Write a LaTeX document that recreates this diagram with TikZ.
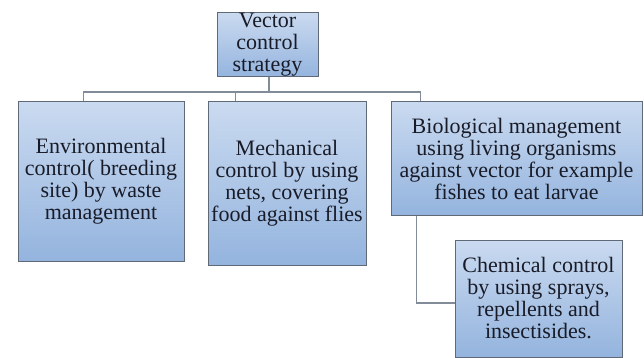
\documentclass[tikz,border=0pt]{standalone}
\usepackage{fontspec}
\setmainfont{Liberation Serif}
\definecolor{boxtop}{RGB}{202,218,240}
\definecolor{boxbot}{RGB}{148,180,222}
\definecolor{boxline}{RGB}{95,105,120}
\definecolor{linkcol}{RGB}{130,140,152}
\definecolor{txt}{RGB}{25,28,40}
\begin{document}
\begin{tikzpicture}[x=1pt,y=-1pt,
  box/.style={draw=boxline, line width=1pt, top color=boxtop, bottom color=boxbot,
    align=center, inner sep=0pt, text=txt,
    font=\fontsize{22}{22}\selectfont},
  link/.style={draw=linkcol, line width=1.6pt}]
\useasboundingbox (0,0) rectangle (644,358);
\node[box, minimum width=101pt, minimum height=64pt] (top) at (267.5,45) {Vector\\control\\strategy};
\node[box, minimum width=166pt, minimum height=159pt] (b1) at (101,181.5) {Environmental\\control( breeding\\site) by waste\\management};
\node[box, minimum width=158pt, minimum height=163pt] (b2) at (287,183.5) {Mechanical\\control by using\\nets, covering\\food against flies};
\node[box, minimum width=251pt, minimum height=113pt] (b3) at (516.5,158.5) {Biological management\\using living organisms\\against vector for example\\fishes to eat larvae};
\node[box, minimum width=167pt, minimum height=117pt] (b4) at (538.5,298.5) {Chemical control\\by using sprays,\\repellents and\\insectisides.};
\coordinate (bus) at (0,92);
\coordinate (t1) at ([xshift=1.5pt]top.south);
\coordinate (d1) at ([xshift=66pt]b1.north west);
\coordinate (d2) at ([xshift=28pt]b2.north west);
\coordinate (d3) at ([xshift=30pt]b3.north west);
\coordinate (e3) at ([xshift=26pt]b3.south west);
\coordinate (k) at (e3 |- 0,303);
\draw[link] (t1) -- (t1 |- bus);
\draw[link] (d1) -- (d1 |- bus) -- (d3 |- bus) -- (d3);
\draw[link] (d2) -- (d2 |- bus);
\draw[link] (e3) -- (k) -- (k -| b4.west);
\end{tikzpicture}
\end{document}
